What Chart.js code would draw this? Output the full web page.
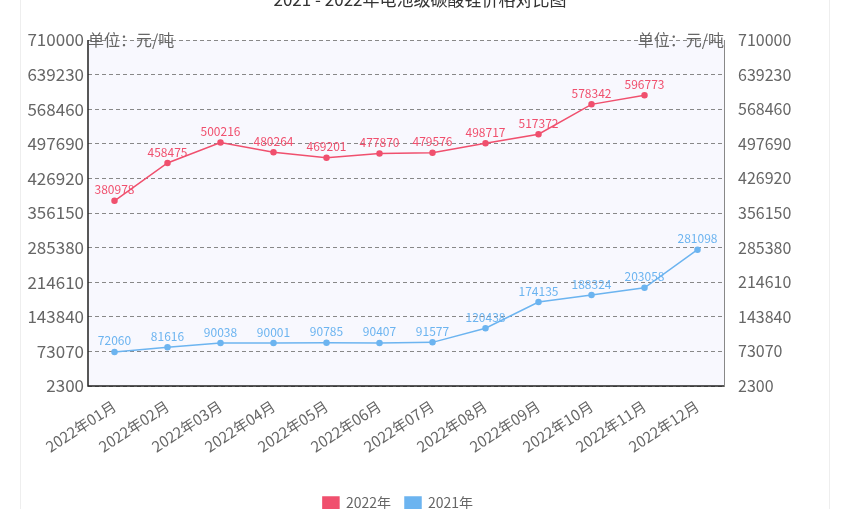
<!DOCTYPE html>
<html><head><meta charset="utf-8">
<script src="https://cdn.jsdelivr.net/npm/chart.js@4"></script>
<style>html,body{margin:0;padding:0;background:#fff;overflow:hidden;width:846px;height:509px}
#wrap{position:absolute;left:0;top:0;width:846px;height:520px}
#panel{position:absolute;left:20px;top:0;width:808px;height:509px;border-left:1px solid #eee;border-right:1px solid #eee}
</style></head><body>
<div id="panel"></div>
<div id="wrap"><canvas id="c" width="846" height="520"></canvas></div>
<script>
const categories=['2022年01月','2022年02月','2022年03月','2022年04月','2022年05月','2022年06月','2022年07月','2022年08月','2022年09月','2022年10月','2022年11月','2022年12月'];
const values2022=[380978,458475,500216,480264,469201,477870,479576,498717,517372,578342,596773,null];
const values2021=[72060,81616,90038,90001,90785,90407,91577,120438,174135,188324,203058,281098];
const yMin=2300, yMax=710000, yStep=70770;
const FONT='"Microsoft YaHei","Noto Sans CJK SC",sans-serif';
const red='#f0506e', blue='#6cb4f0';
const deco={id:'deco',
 beforeDraw(c){const a=c.chartArea,x=c.ctx;x.save();x.fillStyle='#f8f8fe';x.fillRect(a.left,a.top,a.right-a.left,a.bottom-a.top);x.restore();},
 afterDraw(c){const x=c.ctx,a=c.chartArea;x.save();
  x.fillStyle='#333';x.font='17px '+FONT;x.textAlign='center';x.textBaseline='middle';
  x.fillText('2021 - 2022年电池级碳酸锂价格对比图',420,0);
  x.fillStyle='#666';x.font='16px '+FONT;x.textBaseline='bottom';
  x.textAlign='left';x.fillText('单位：元/吨',a.left,a.top+8);
  x.textAlign='right';x.fillText('单位：元/吨',a.right,a.top+8);
  x.font='12px '+FONT;x.textAlign='center';x.textBaseline='bottom';
  c.data.datasets.forEach((d,i)=>{const m=c.getDatasetMeta(i);x.fillStyle=d.borderColor;
   m.data.forEach((p,j)=>{if(d.data[j]==null)return;x.fillText(String(d.data[j]),p.x,p.y-5);});});
  x.strokeStyle='#222';x.lineWidth=1.5;x.beginPath();x.moveTo(a.left,a.top);x.lineTo(a.left,a.bottom);x.lineTo(a.right,a.bottom);x.stroke();
  x.restore();}};
new Chart(document.getElementById('c'),{type:'line',
 data:{labels:categories,datasets:[
  {label:'2022年',data:values2022,borderColor:red,backgroundColor:red,borderWidth:1.5,pointRadius:2.5,tension:0},
  {label:'2021年',data:values2021,borderColor:blue,backgroundColor:blue,borderWidth:1.5,pointRadius:2.5,tension:0}]},
 options:{responsive:false,animation:false,
  layout:{padding:{top:40,left:0,right:50,bottom:0}},
  plugins:{title:{display:false},tooltip:{enabled:false},
   legend:{position:'bottom',labels:{boxWidth:16,boxHeight:12,font:{size:14,family:FONT},color:'#666',padding:14}}},
  scales:{
   x:{offset:true,grid:{display:false},border:{display:false},
     ticks:{minRotation:33,maxRotation:33,color:'#666',font:{size:15,family:FONT}},
     afterFit(s){s.height=96;}},
   y:{min:yMin,max:yMax,position:'left',
     ticks:{stepSize:yStep,color:'#666',font:{size:17,family:FONT},padding:4,callback:v=>String(v)},
     grid:{color:'#888',tickLength:0},border:{display:false,dash:[4,3]},
     afterFit(s){s.width=88;}},
   y2:{min:yMin,max:yMax,position:'right',
     ticks:{stepSize:yStep,color:'#666',font:{size:16,family:FONT},padding:6,callback:v=>String(v)},
     grid:{display:false},border:{color:'#888',dash:[4,3]},
     afterFit(s){s.width=72;}}}},
 plugins:[deco]});
</script></body></html>
